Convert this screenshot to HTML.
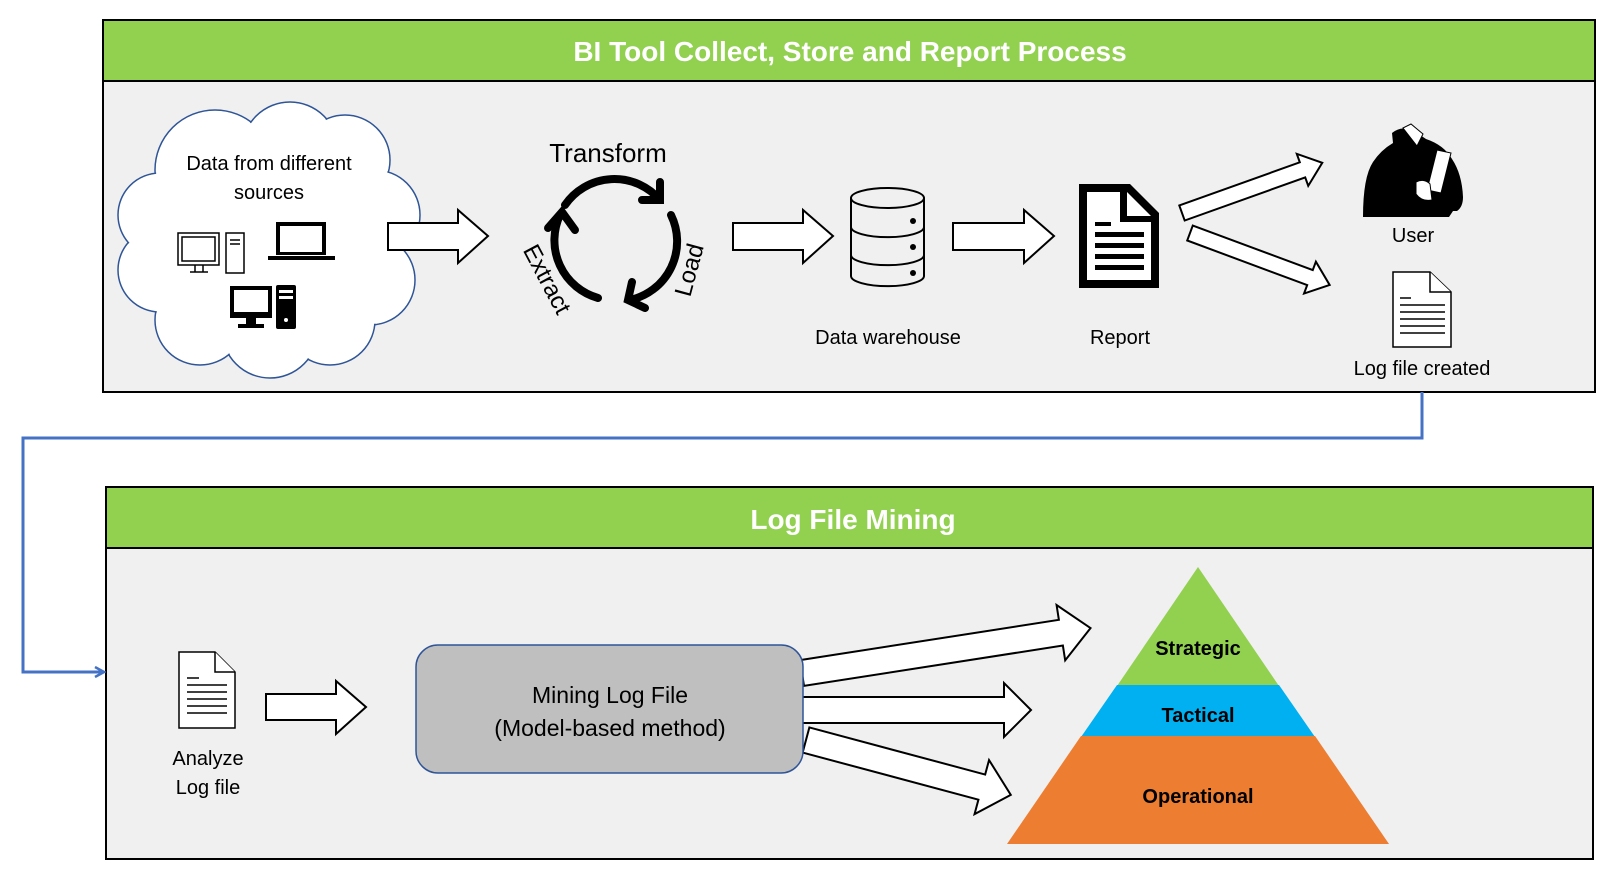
<!DOCTYPE html>
<html><head><meta charset="utf-8"><style>
html,body{margin:0;padding:0;background:#fff;width:1618px;height:879px;overflow:hidden}
svg{display:block}
text{font-family:"Liberation Sans",sans-serif}
</style></head><body>
<svg width="1618" height="879" viewBox="0 0 1618 879" xmlns="http://www.w3.org/2000/svg">
<defs>
<marker id="bh" markerWidth="12" markerHeight="12" refX="10" refY="6" orient="auto" markerUnits="userSpaceOnUse">
<path d="M1,1 L10,6 L1,11" fill="none" stroke="#4472c4" stroke-width="2.5"/></marker>
</defs>
<rect x="103" y="20" width="1492" height="372" fill="#f0f0f0" stroke="#000" stroke-width="2"/>
<rect x="103" y="20" width="1492" height="61" fill="#92d050" stroke="#000" stroke-width="2"/>
<text x="850" y="61" text-anchor="middle" font-size="28" font-weight="bold" fill="#fff">BI Tool Collect, Store and Report Process</text>
<rect x="106" y="487" width="1487" height="372" fill="#f0f0f0" stroke="#000" stroke-width="2"/>
<rect x="106" y="487" width="1487" height="61" fill="#92d050" stroke="#000" stroke-width="2"/>
<text x="853" y="529" text-anchor="middle" font-size="28" font-weight="bold" fill="#fff">Log File Mining</text>
<polyline points="1422,392 1422,438 23,438 23,672 104,672" fill="none" stroke="#4472c4" stroke-width="3" marker-end="url(#bh)"/>
<g fill="#fff" stroke="#2f5597" stroke-width="1.5">
<circle cx="215" cy="170" r="60"/><circle cx="290" cy="150" r="48"/><circle cx="345" cy="160" r="45"/>
<circle cx="375" cy="215" r="45"/><circle cx="370" cy="280" r="45"/><circle cx="330" cy="320" r="45"/>
<circle cx="270" cy="330" r="48"/><circle cx="200" cy="320" r="45"/><circle cx="160" cy="270" r="42"/><circle cx="160" cy="215" r="42"/>
<circle cx="265" cy="240" r="90" stroke="none"/>
</g>
<g fill="#fff">
<circle cx="215" cy="170" r="59"/><circle cx="290" cy="150" r="47"/><circle cx="345" cy="160" r="44"/>
<circle cx="375" cy="215" r="44"/><circle cx="370" cy="280" r="44"/><circle cx="330" cy="320" r="44"/>
<circle cx="270" cy="330" r="47"/><circle cx="200" cy="320" r="44"/><circle cx="160" cy="270" r="41"/><circle cx="160" cy="215" r="41"/>
</g>
<text x="269" y="170" text-anchor="middle" font-size="20">Data from different</text>
<text x="269" y="199" text-anchor="middle" font-size="20">sources</text>
<g fill="none" stroke="#000" stroke-width="1.5">
<rect x="178" y="233" width="41" height="32"/><rect x="182" y="237" width="33" height="24"/>
<path d="M195,265 v7 M203,265 v7 M190,272 h18"/>
<rect x="226" y="233" width="18" height="40"/><path d="M230,240 h10 M230,244 h10"/>
</g>
<rect x="276" y="222" width="50" height="33" fill="#000"/><rect x="280" y="226" width="42" height="26" fill="#fff"/>
<rect x="268" y="256" width="67" height="4" fill="#000"/>
<rect x="230" y="286" width="42" height="32" fill="#000"/><rect x="234" y="290" width="34" height="22" fill="#fff"/>
<rect x="246" y="318" width="10" height="6" fill="#000"/><rect x="238" y="324" width="26" height="4" fill="#000"/>
<rect x="276" y="285" width="20" height="44" rx="2" fill="#000"/><rect x="279" y="290" width="14" height="3" fill="#fff"/><rect x="279" y="296" width="14" height="3" fill="#fff"/><circle cx="286" cy="320" r="2" fill="#fff"/>
<g fill="#fff" stroke="#000" stroke-width="2">
<polygon points="388,223 458,223 458,210 488,236 458,263 458,250 388,250"/>
<polygon points="733,223 803,223 803,210 833,236 803,263 803,250 733,250"/>
<polygon points="953,223 1024,223 1024,210 1054,236 1024,263 1024,250 953,250"/>
<polygon points="266,694 336,694 336,681 366,707 336,734 336,720 266,720"/>
<polygon points="800,697 1004,697 1004,683 1031,710 1004,737 1004,723 800,723"/>
<g transform="translate(1182,213) rotate(-19.7)"><polygon points="0,-8 128,-8 128,-17 149,0 128,17 128,8 0,8"/></g>
<g transform="translate(1190,233) rotate(20.4)"><polygon points="0,-8 128,-8 128,-17 149,0 128,17 128,8 0,8"/></g>
<g transform="translate(802,673) rotate(-8.85)"><polygon points="0,-13 262,-13 262,-28 292,0 262,28 262,13 0,13"/></g>
<g transform="translate(806,740) rotate(15)"><polygon points="0,-13 182,-13 182,-28 212,0 182,28 182,13 0,13"/></g>
</g>
<text x="608" y="162" text-anchor="middle" font-size="26">Transform</text>
<g fill="none" stroke="#000" stroke-width="8" stroke-linecap="round">
<path d="M565,205 A60,60 0 0 1 660,200"/>
<path d="M642,200 L660,200 L660,182"/>
<path d="M671,215 A60,60 0 0 1 630,300"/>
<path d="M632,282 L628,300 L645,308"/>
<path d="M598,298 A60,60 0 0 1 560,215"/>
<path d="M548,228 L562,212 L575,230"/>
</g>
<text transform="translate(540,283) rotate(62)" text-anchor="middle" font-size="24">Extract</text>
<text transform="translate(697,272) rotate(-75)" text-anchor="middle" font-size="24">Load</text>
<g fill="none" stroke="#000" stroke-width="2">
<path d="M851,198 v78 a36,10 0 0 0 73,0 v-78"/>
<ellipse cx="887.5" cy="198" rx="36.5" ry="10"/>
<path d="M851,227 a36,10 0 0 0 73,0 M851,255 a36,10 0 0 0 73,0"/>
</g>
<circle cx="913" cy="221" r="3"/><circle cx="913" cy="247" r="3"/><circle cx="913" cy="273" r="3"/>
<text x="888" y="344" text-anchor="middle" font-size="20">Data warehouse</text>
<path d="M1079,184 h51 l29,29 v75 h-80 z" fill="#000"/>
<path d="M1087,192 h33 v30 h31 v58 h-64 z" fill="#fff"/>
<path d="M1127,192 l24,24 h-24 z" fill="#fff"/>
<g fill="#000"><rect x="1095" y="222" width="16" height="4"/><rect x="1095" y="232" width="49" height="5"/><rect x="1095" y="243" width="49" height="5"/><rect x="1095" y="254" width="49" height="5"/><rect x="1095" y="265" width="49" height="5"/></g>
<text x="1120" y="344" text-anchor="middle" font-size="20">Report</text>
<path d="M1392,133 q10,-8 22,-2 l12,8 q18,6 26,20 q10,15 11,38 q0,10 -6,14 l-4,0 l-4,6 h-86 q0,-40 10,-55 q8,-12 20,-19 z" fill="#000"/>
<path d="M1403,128 l8,-4 l12,10 l-6,12 z" fill="#fff" stroke="#000"/>
<path d="M1437,150 l14,3 l-10,40 l-14,-3 z" fill="#fff" stroke="#000"/>
<path d="M1416,182 q8,-4 14,2 l2,16 q-10,2 -16,-6 z" fill="#fff" stroke="#000"/>
<text x="1413" y="242" text-anchor="middle" font-size="20">User</text>
<g fill="#fff" stroke="#000" stroke-width="1.5"><path d="M1393,272 h37 l21,20 v55 h-58 z"/><path d="M1430,272 v20 h21"/></g>
<path d="M1400,298 h11 M1400,305 h45 M1400,312 h45 M1400,319 h45 M1400,326 h45 M1400,333 h45" stroke="#000" stroke-width="1.5"/>
<text x="1422" y="375" text-anchor="middle" font-size="20">Log file created</text>
<g fill="#fff" stroke="#000" stroke-width="1.5"><path d="M179,652 h36 l20,20 v56 h-56 z"/><path d="M215,652 v20 h20"/></g>
<path d="M187,678 h12 M187,685 h40 M187,692 h40 M187,699 h40 M187,706 h40 M187,713 h40" stroke="#000" stroke-width="1.5"/>
<text x="208" y="765" text-anchor="middle" font-size="20">Analyze</text>
<text x="208" y="794" text-anchor="middle" font-size="20">Log file</text>
<rect x="416" y="645" width="387" height="128" rx="22" fill="#bfbfbf" stroke="#2f5597" stroke-width="1.5"/>
<text x="610" y="703" text-anchor="middle" font-size="23">Mining Log File</text>
<text x="610" y="736" text-anchor="middle" font-size="23">(Model-based method)</text>
<polygon points="1198,567 1279,686 1117,686" fill="#92d050"/>
<polygon points="1117,685 1279,685 1315,737 1081,737" fill="#00b0f0"/>
<polygon points="1081,736 1315,736 1389,844 1007,844" fill="#ed7d31"/>
<text x="1198" y="655" text-anchor="middle" font-size="20" font-weight="bold">Strategic</text>
<text x="1198" y="722" text-anchor="middle" font-size="20" font-weight="bold">Tactical</text>
<text x="1198" y="803" text-anchor="middle" font-size="20" font-weight="bold">Operational</text>
</svg>
</body></html>
